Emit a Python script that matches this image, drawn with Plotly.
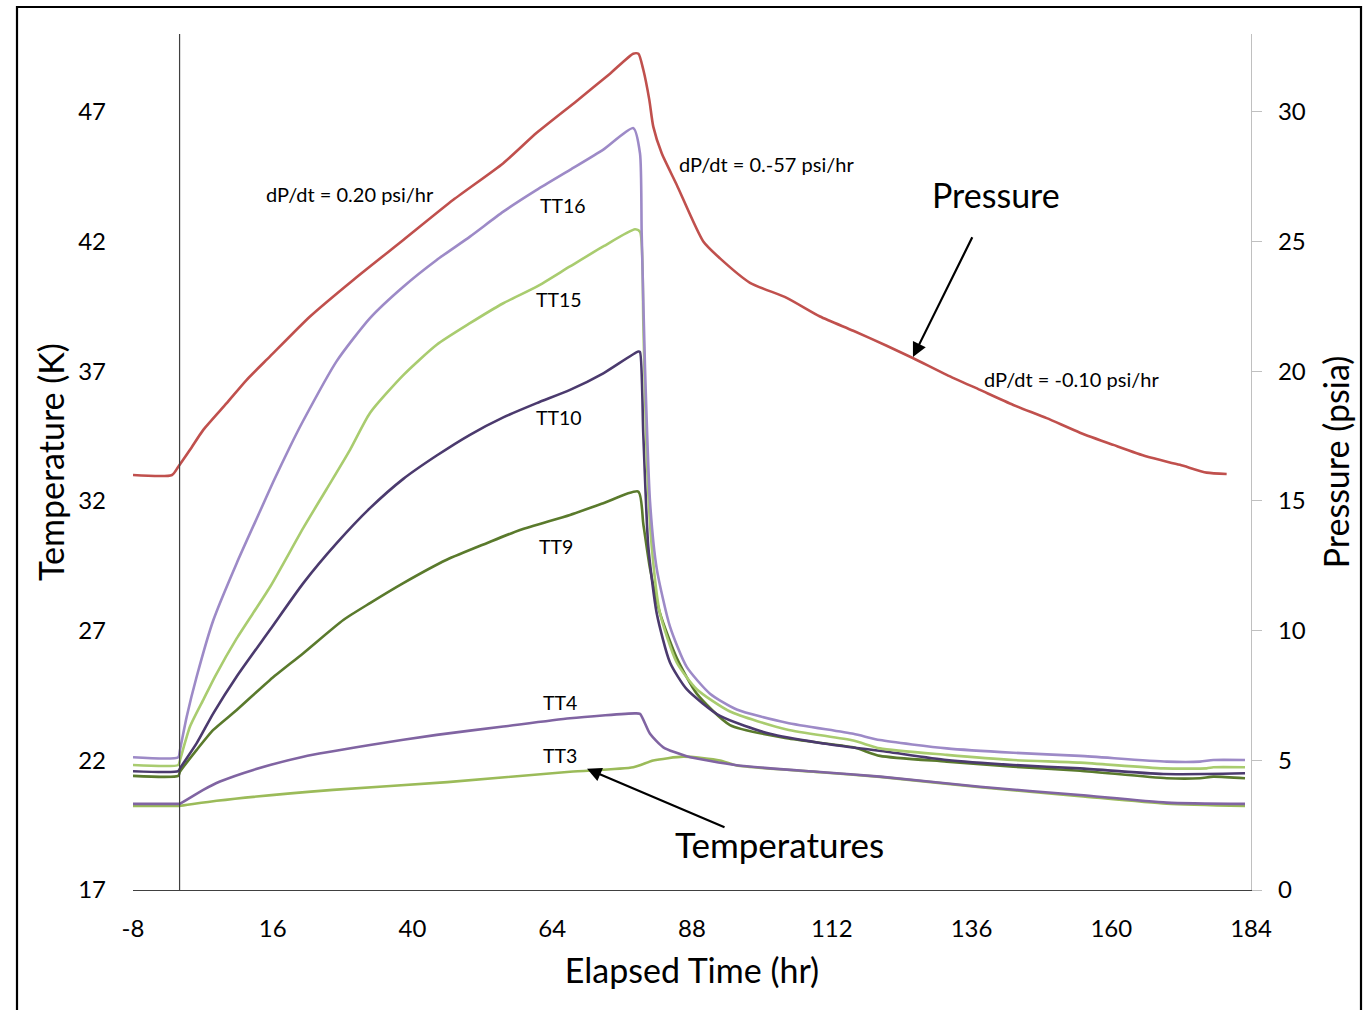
import plotly.graph_objects as go

# ---------------- data ----------------
# Pressure (psia) vs elapsed time (hr)
p_time = [-8, -1.3, -0.22, 1.79, 4.07, 8.09, 11.53, 15.53, 22.40, 29.83, 38.42, 47.01,
          55.59, 61.33, 68.20, 73.92, 77.9, 78.8, 79.64, 80.67, 81.35, 82.80, 85.37,
          89.94, 92.81, 97.96, 104.26, 109.98, 115.70, 121.43, 126.00, 131.74, 137.46,
          143.18, 148.91, 154.63, 160.35, 166.09, 171.80, 176.39, 179.82]
p_psia = [16.00, 16.00, 16.32, 16.97, 17.74, 18.77, 19.67, 20.57, 22.11, 23.52, 25.06, 26.61,
          28.02, 29.19, 30.42, 31.47, 32.24, 32.24, 31.62, 30.46, 29.43, 28.40, 27.19,
          25.00, 24.35, 23.41, 22.83, 22.11, 21.56, 20.98, 20.50, 19.86, 19.28,
          18.70, 18.19, 17.63, 17.16, 16.71, 16.39, 16.09, 16.04]

# Temperatures (K)
tt16_time = [-8, -0.22, 0.07, 1.22, 2.94, 5.79, 9.81, 13.81, 16.09, 18.96, 21.25, 26.98,
             32.70, 38.42, 44.16, 49.87, 55.59, 61.33, 67.05, 72.77, 77.92, 79.07, 79.36,
             79.93, 80.79, 81.94, 84.22, 87.09, 91.09, 95.68, 104.26, 115.70, 120.28,
             131.74, 143.18, 154.63, 169.52, 175.24, 177.53, 182.97]
tt16_temp = [22.12, 22.12, 22.40, 23.68, 25.23, 27.40, 29.60, 31.60, 32.74, 34.09, 35.10, 37.39,
             39.05, 40.26, 41.29, 42.19, 43.15, 43.99, 44.76, 45.54, 46.37, 45.40, 42.30,
             37.13, 31.97, 29.39, 27.15, 25.60, 24.57, 23.96, 23.45, 23.02, 22.78,
             22.46, 22.29, 22.17, 21.95, 21.95, 22.01, 22.01]

tt15_time = [-8, -0.22, 0.07, 1.79, 4.07, 6.08, 9.81, 15.53, 21.25, 25.26, 29.27, 32.70,
             38.42, 44.16, 49.87, 55.59, 61.33, 67.05, 72.77, 78.21, 79.07, 79.64, 80.22,
             81.08, 82.50, 85.37, 88.81, 94.52, 104.26, 115.70, 120.28, 131.74, 143.18,
             154.63, 168.94, 176.39, 177.53, 182.97]
tt15_temp = [21.82, 21.82, 22.01, 23.30, 24.33, 25.23, 26.70, 28.68, 30.96, 32.46, 33.97, 35.39,
             36.85, 38.02, 38.85, 39.62, 40.26, 41.04, 41.81, 42.47, 42.38, 38.86, 33.69,
             30.25, 27.67, 25.77, 24.74, 23.88, 23.19, 22.76, 22.46, 22.21, 22.01,
             21.91, 21.69, 21.69, 21.73, 21.73]

tt10_time = [-8, -0.22, 0.07, 2.94, 5.79, 9.81, 15.53, 21.25, 26.98, 32.70, 38.42, 44.16,
             49.87, 55.59, 61.33, 67.05, 72.77, 78.78, 79.07, 79.64, 80.49, 81.94, 84.22,
             87.09, 92.81, 101.39, 109.98, 121.43, 131.74, 143.18, 154.63, 168.94, 182.97]
tt10_temp = [21.58, 21.58, 21.69, 22.66, 23.81, 25.23, 27.03, 28.83, 30.37, 31.72, 32.85, 33.75,
             34.55, 35.22, 35.77, 36.28, 36.92, 37.76, 37.74, 34.55, 30.25, 27.67, 25.77,
             24.74, 23.71, 23.02, 22.67, 22.33, 22.01, 21.82, 21.69, 21.47, 21.50]

tt9_time = [-8, -0.22, 0.07, 2.94, 5.79, 9.81, 15.53, 21.25, 28.12, 32.70, 38.42, 45.87,
            52.74, 58.46, 67.05, 72.77, 78.78, 79.64, 80.79, 82.50, 85.37, 88.81, 94.52,
            104.26, 115.70, 120.28, 131.74, 143.18, 154.63, 169.52, 175.24, 177.53, 182.97]
tt9_temp = [21.40, 21.40, 21.56, 22.40, 23.17, 23.94, 25.10, 26.13, 27.41, 28.06, 28.83, 29.73,
            30.37, 30.88, 31.46, 31.91, 32.36, 31.11, 29.39, 27.67, 25.95, 24.57, 23.36,
            22.85, 22.50, 22.17, 21.95, 21.75, 21.60, 21.31, 21.31, 21.37, 21.31]

tt4_time = [-8, -0.22, 0.0, 4.07, 6.94, 12.66, 21.25, 32.70, 44.16, 55.59, 67.05, 78.21,
            79.07, 80.79, 83.07, 87.09, 95.68, 109.98, 120.28, 137.46, 154.63, 169.52, 182.97]
tt4_temp = [20.32, 20.32, 20.32, 20.86, 21.18, 21.63, 22.14, 22.59, 22.98, 23.30, 23.62, 23.81,
            23.79, 23.02, 22.50, 22.16, 21.81, 21.55, 21.37, 20.98, 20.66, 20.37, 20.32]

tt3_time = [-8, -0.22, 0.0, 6.37, 26.35, 46.0, 67.05, 77.92, 81.35, 86.51, 92.81, 95.68,
            109.98, 120.28, 137.46, 154.63, 169.52, 182.97]
tt3_temp = [20.24, 20.24, 20.24, 20.44, 20.86, 21.16, 21.56, 21.73, 21.99, 22.14, 21.99, 21.80,
            21.54, 21.36, 20.96, 20.62, 20.33, 20.24]

x_ticks = [-8, 16, 40, 64, 88, 112, 136, 160, 184]
t_ticks = [17, 22, 27, 32, 37, 42, 47]
p_ticks = [0, 5, 10, 15, 20, 25, 30]

# ---------------- figure ----------------
FONT = "Lato"
LW = 2.6
SMOOTH = 0.6

fig = go.Figure()

series = [
    ("TT3", tt3_time, tt3_temp, "#9bbb59"),
    ("TT4", tt4_time, tt4_temp, "#8064a2"),
    ("TT9", tt9_time, tt9_temp, "#5a7a2c"),
    ("TT10", tt10_time, tt10_temp, "#4b3a6e"),
    ("TT15", tt15_time, tt15_temp, "#a9cc6f"),
    ("TT16", tt16_time, tt16_temp, "#9d8ac7"),
]
for name, xs, ys, col in series:
    fig.add_trace(go.Scatter(x=xs, y=ys, mode="lines", name=name,
                             line=dict(color=col, width=LW, shape="spline", smoothing=SMOOTH),
                             yaxis="y"))

fig.add_trace(go.Scatter(x=p_time, y=p_psia, mode="lines", name="Pressure",
                         line=dict(color="#c0504d", width=LW, shape="spline", smoothing=SMOOTH),
                         yaxis="y2"))

fig.update_layout(
    width=1366, height=1010,
    margin=dict(l=133, r=115, t=34, b=120, autoexpand=False),
    paper_bgcolor="white", plot_bgcolor="white",
    showlegend=False,
    font=dict(family=FONT, color="#000000"),
    xaxis=dict(range=[-8, 184], tickvals=x_ticks, ticktext=[str(v) for v in x_ticks],
               showgrid=False, zeroline=False, showline=True, linecolor="#404040",
               linewidth=1.3, ticks="", ticklabelstandoff=17,
               tickfont=dict(size=24, family=FONT),
               title=dict(text="Elapsed Time (hr)", font=dict(size=34, family=FONT), standoff=18)),
    yaxis=dict(range=[17, 50], tickvals=t_ticks, ticktext=[str(v) for v in t_ticks],
               showgrid=False, zeroline=False, showline=False, ticks="",
               ticklabelstandoff=26, tickfont=dict(size=24, family=FONT),
               title=dict(text="Temperature (K)", font=dict(size=34, family=FONT), standoff=3)),
    yaxis2=dict(range=[0, 33], tickvals=p_ticks, ticktext=[str(v) for v in p_ticks],
                overlaying="y", side="right", showgrid=False, zeroline=False,
                showline=True, linecolor="#c0c0c0", linewidth=1.2,
                ticks="outside", ticklen=10, tickcolor="#c0c0c0", tickwidth=1.2,
                ticklabelstandoff=11, tickfont=dict(size=24, family=FONT),
                title=dict(text="Pressure (psia)", font=dict(size=34, family=FONT), standoff=20)),
)

# vertical axis line at t = 0
fig.add_shape(type="line", xref="x", yref="paper", x0=0, x1=0, y0=0, y1=1,
              line=dict(color="#404040", width=1.2))

# outer frame
fig.add_shape(type="rect", xref="paper", yref="paper",
              x0=(17 - 133) / 1118, x1=(1361 - 133) / 1118,
              y0=(890 - 1015) / 856, y1=(890 - 7) / 856,
              line=dict(color="#000000", width=2.2), fillcolor="rgba(0,0,0,0)", layer="above")

# text annotations
texts = [
    ("dP/dt = 0.20 psi/hr", 29.27, 43.84, 20),
    ("dP/dt = 0.-57 psi/hr", 100.71, 45.0, 20),
    ("dP/dt = -0.10 psi/hr", 153.09, 36.70, 20),
    ("Pressure", 140.2, 43.80, 34),
    ("Temperatures", 103.11, 18.77, 35),
    ("TT16", 65.85, 43.38, 19.5),
    ("TT15", 65.16, 39.75, 19.5),
    ("TT10", 65.16, 35.20, 19.5),
    ("TT9", 64.64, 30.23, 19.5),
    ("TT4", 65.33, 24.21, 19.5),
    ("TT3", 65.33, 22.17, 19.5),
]
for t, x, y, s in texts:
    fig.add_annotation(x=x, y=y, xref="x", yref="y", text=t, showarrow=False,
                       font=dict(size=s, family=FONT, color="#000000"))

# arrows
arrows = [
    (125.95, 37.55, 136.26, 42.22),
    (69.97, 21.67, 93.84, 19.39),
]
for hx, hy, tx, ty in arrows:
    fig.add_annotation(x=hx, y=hy, ax=tx, ay=ty, xref="x", yref="y", axref="x", ayref="y",
                       text="", showarrow=True, arrowhead=2, arrowsize=1.3, arrowwidth=2.2,
                       arrowcolor="#000000", standoff=0)

fig.write_html("out.html")
